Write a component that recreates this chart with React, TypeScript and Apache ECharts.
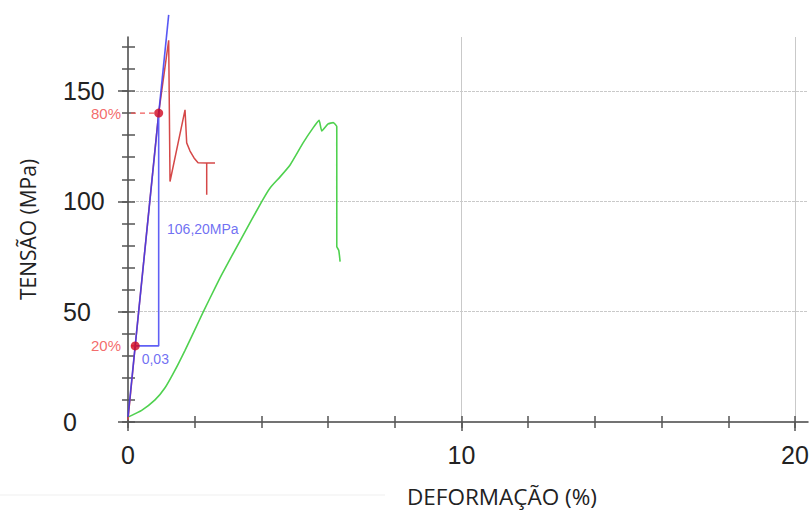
import React, { useEffect, useRef } from "react";
import * as echarts from "echarts";

// ---- axis ticks / labels ----
const X_TICKS = [0, 2, 4, 6, 8, 10, 12, 14, 16, 18, 20];
const X_LABELS = [0, 10, 20];
const Y_TICKS = [0, 10, 20, 30, 40, 50, 60, 70, 80, 90, 100, 110, 120, 130, 140, 150, 160, 170];
const Y_LABELS = [0, 50, 100, 150];
const X_MAX = 20.39;
const Y_MAX = 174.5;

// ---- series (deformação %, tensão MPa) ----
const GREEN_CURVE: [number, number][] = [
  [0, 2.2], [0.41, 5.3], [0.81, 10.0], [1.11, 15.5], [1.41, 23.5], [1.71, 32.5],
  [2.01, 42.0], [2.26, 50.0], [2.61, 60.8], [2.81, 66.8], [3.41, 83.5], [4.01, 99.9],
  [4.26, 106.1], [4.56, 111.1], [4.86, 116.5], [5.25, 126.5], [5.55, 133.3], [5.73, 136.7],
  [5.81, 131.9], [6.0, 135.1], [6.15, 135.7], [6.26, 133.9], [6.26, 79.5], [6.32, 77.8],
  [6.36, 72.7],
];
const RED_CURVE: [number, number][] = [
  [0, 1], [0.216, 34.5], [0.92, 140], [1.22, 173], [1.26, 109], [1.71, 141.5],
  [1.76, 126.5], [1.86, 122.8], [1.98, 119.7], [2.1, 117.5], [2.36, 117.4],
  [2.36, 103], [2.36, 117.4], [2.61, 117.4],
];
const BLUE_FIT: [number, number][] = [[0, 2.3], [1.22, 184.5]];
const PCT_NAMES = ["80%", "20%"];
const PCT_X = [0.92, 0.216];
const PCT_Y = [140, 34.5];
const SLOPE_TEXT = "106,20MPa";
const STRAIN_TEXT = "0,03";

// annotation anchors (data space)
const LEADER_X = -0.18;
const SLOPE_ANCHOR: [number, number] = [1.17, 87.5];
const STRAIN_ANCHOR: [number, number] = [0.41, 28.4];

const AXIS_COLOR = "#444";
const TICK_COLOR = "#555";
const GRID_COLOR = "#c9c9c9";

function tickAxis(base: any, values: number[], inside: boolean, length: number) {
  return {
    ...base,
    axisLine: { show: false, onZero: false },
    axisLabel: { show: false },
    splitLine: { show: false },
    axisTick: {
      show: true,
      inside,
      length,
      customValues: values,
      lineStyle: { color: TICK_COLOR, width: 1.5 },
    },
  };
}

export default function App() {
  const ref = useRef<HTMLDivElement>(null);
  useEffect(() => {
    if (!ref.current) return;
    const chart = echarts.init(ref.current, undefined, { renderer: "svg" });
    const xBase = { type: "value", min: 0, max: X_MAX, interval: 10, position: "bottom", gridIndex: 0 };
    const yBase = { type: "value", min: 0, max: Y_MAX, interval: 50, position: "left", gridIndex: 0 };
    const p80 = [PCT_X[0], PCT_Y[0]];
    const p20 = [PCT_X[1], PCT_Y[1]];
    const option: any = {
      animation: false,
      backgroundColor: "#fff",
      grid: { left: 128, right: 3, top: 37, bottom: 89, containLabel: false, outerBoundsMode: "none" },
      xAxis: [
        {
          ...xBase,
          axisLine: { show: true, onZero: false, lineStyle: { color: AXIS_COLOR, width: 1.5 } },
          axisTick: { show: false, customValues: X_LABELS },
          axisLabel: {
            customValues: X_LABELS,
            margin: 20,
            fontSize: 25,
            color: "#222",
            fontFamily: "Liberation Sans",
          },
          splitLine: { show: true, showMinLine: false, showMaxLine: true, lineStyle: { color: GRID_COLOR, width: 1 } },
        },
        tickAxis(xBase, X_TICKS, false, 6),
        tickAxis(xBase, X_TICKS, true, 6),
        tickAxis(xBase, X_LABELS, false, 9),
      ],
      yAxis: [
        {
          ...yBase,
          name: "TENSÃO (MPa)",
          nameLocation: "middle",
          nameGap: 90,
          nameTextStyle: { fontSize: 21, color: "#222", fontFamily: "Open Sans" },
          axisLine: { show: true, onZero: false, lineStyle: { color: AXIS_COLOR, width: 1.5 } },
          axisTick: { show: false, customValues: Y_LABELS },
          axisLabel: {
            customValues: Y_LABELS,
            align: "left",
            margin: 65,
            fontSize: 25,
            color: "#222",
            fontFamily: "Liberation Sans",
          },
          splitLine: { show: true, showMinLine: false, showMaxLine: true, lineStyle: { color: GRID_COLOR, width: 1, type: [3, 1] } },
        },
        tickAxis(yBase, Y_TICKS, false, 6),
        tickAxis(yBase, Y_TICKS, true, 7),
        tickAxis(yBase, Y_LABELS, false, 10),
      ],
      graphic: [
        {
          type: "text",
          left: 407,
          top: 485,
          style: { text: "DEFORMAÇÃO (%)", font: '22.5px "Open Sans"', fill: "#222" },
        },
        {
          type: "line",
          shape: { x1: 0, y1: 495, x2: 385, y2: 495 },
          style: { stroke: "#efefef", lineWidth: 1 },
        },
      ],
      series: [
        {
          type: "line",
          data: GREEN_CURVE,
          symbol: "none",
          smooth: 0.15,
          lineStyle: { color: "#4fd14f", width: 1.6 },
          z: 3,
        },
        {
          type: "line",
          data: RED_CURVE,
          symbol: "none",
          lineStyle: { color: "#d54848", width: 1.5 },
          z: 3,
        },
        {
          type: "line",
          data: BLUE_FIT,
          symbol: "none",
          clip: false,
          lineStyle: { color: "#3a3af2", width: 1.6, opacity: 0.85 },
          z: 4,
        },
        {
          type: "line",
          data: [[p20[0], p20[1]], [p80[0], p20[1]], [p80[0], p80[1]]],
          symbol: "none",
          lineStyle: { color: "#6060f5", width: 1.6 },
          z: 4,
        },
        ...PCT_X.map((x, i) => ({
          type: "line",
          data: [[LEADER_X, PCT_Y[i]], [x, PCT_Y[i]]],
          symbol: "none",
          clip: false,
          lineStyle: { color: "#f05a5a", width: 1.3, type: [5, 4] },
          z: 5,
        })),
        {
          type: "scatter",
          data: PCT_X.map((x, i) => [x, PCT_Y[i]]),
          symbolSize: 9,
          itemStyle: { color: "#d0061f" },
          z: 6,
        },
        {
          type: "scatter",
          clip: false,
          symbolSize: 0,
          data: PCT_NAMES.map((n, i) => ({ value: [LEADER_X, PCT_Y[i]], name: n })),
          label: {
            show: true,
            position: "left",
            distance: 1,
            formatter: (p: any) => p.name,
            fontSize: 15,
            color: "#f04545",
            fontFamily: "Liberation Sans",
          },
          z: 6,
        },
        {
          type: "scatter",
          symbolSize: 0,
          data: [
            { value: SLOPE_ANCHOR, name: SLOPE_TEXT },
            { value: STRAIN_ANCHOR, name: STRAIN_TEXT },
          ],
          label: {
            show: true,
            position: "right",
            distance: 0,
            formatter: (p: any) => p.name,
            fontSize: 14,
            color: "#4b4bef",
            fontFamily: "Liberation Sans",
          },
          z: 6,
        },
      ],
    };
    chart.setOption(option);
    return () => chart.dispose();
  }, []);
  return (
    <div
      ref={ref}
      style={{ position: "fixed", left: 0, top: 0, width: 811, height: 511, background: "#fff" }}
    />
  );
}
